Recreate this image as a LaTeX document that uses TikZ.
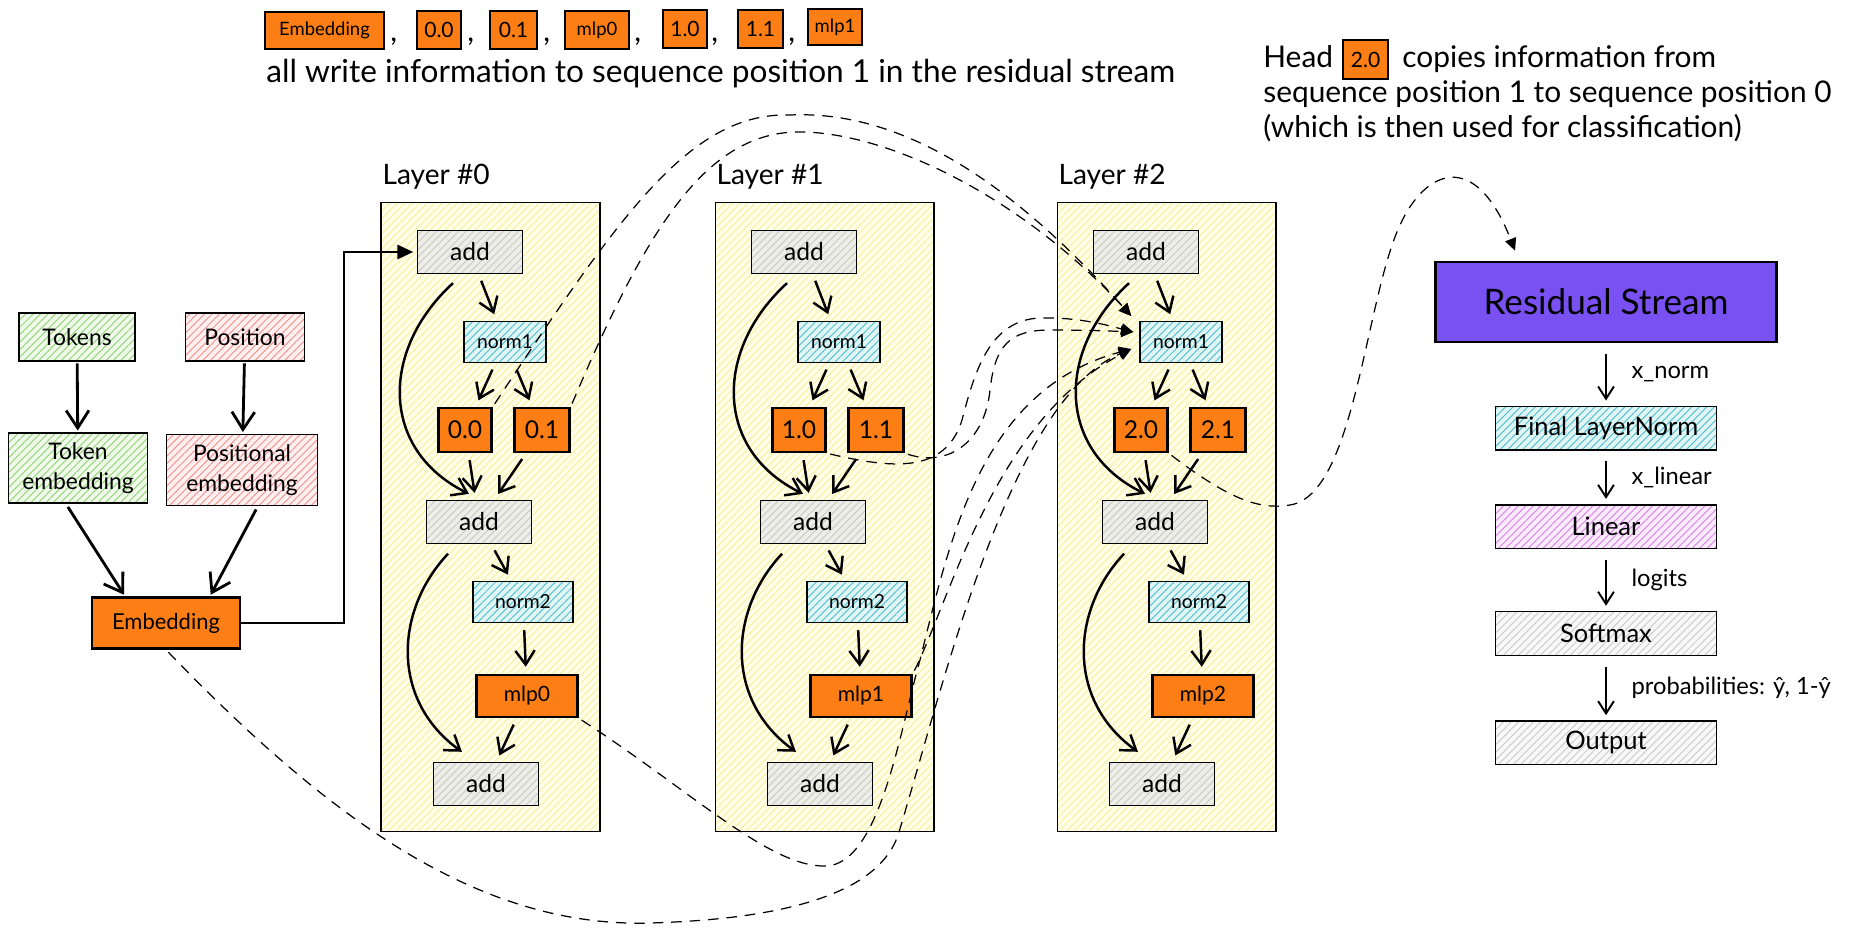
\documentclass[tikz,border=0pt]{standalone}
\usepackage{fontspec}
\setmainfont{Lato}
\usetikzlibrary{arrows.meta,positioning,calc,patterns.meta}

\definecolor{orangebox}{RGB}{253,126,20}
\definecolor{purplebox}{RGB}{121,80,242}
\definecolor{layerbase}{RGB}{255,254,232}
\definecolor{layerline}{RGB}{250,238,150}
\definecolor{addbase}{RGB}{238,238,232}
\definecolor{addline}{RGB}{200,200,195}
\definecolor{normbase}{RGB}{225,245,245}
\definecolor{normline}{RGB}{70,190,205}
\definecolor{greenbase}{RGB}{240,250,235}
\definecolor{greenline}{RGB}{140,210,110}
\definecolor{redbase}{RGB}{255,240,240}
\definecolor{redline}{RGB}{245,140,140}
\definecolor{violetbase}{RGB}{250,235,252}
\definecolor{violetline}{RGB}{215,125,230}
\definecolor{graybase}{RGB}{248,248,248}
\definecolor{grayline}{RGB}{200,200,200}

\begin{document}
\begin{tikzpicture}[x = 0.02cm, y = -0.02cm,
		hatch/.style 2 args = {preaction = {fill = #1}, preaction = {pattern = {Lines[angle = 45, distance = 3pt, line width = 0.5pt]}, pattern color = #2}},
		box_node/.style = {rectangle, draw, line width = 0.8pt, inner sep = 0pt, align = center},
		layer_node/.style = {box_node, hatch = {layerbase}{layerline}, line width = 0.6pt, minimum width = 4.38cm, minimum height = 12.6cm},
		layer_label/.style = {anchor = south west, inner sep = 0pt, xshift = 1pt, yshift = 7pt, font = \fontsize{16}{19}\selectfont},
		add_node/.style = {box_node, hatch = {addbase}{addline}, minimum width = 2.1cm, minimum height = 0.86cm, font = \fontsize{14}{17}\selectfont},
		norm_node/.style = {box_node, hatch = {normbase}{normline}, minimum height = 0.82cm, font = \fontsize{11}{13}\selectfont},
		orange_node/.style = {box_node, fill = orangebox, line width = 1.4pt, minimum height = 0.84cm, font = \fontsize{12}{14}\selectfont},
		head_node/.style = {orange_node, minimum height = 0.88cm, font = \fontsize{14}{17}\selectfont},
		legend_node/.style = {orange_node, line width = 1.1pt, minimum height = 0.75cm, font = \fontsize{10.5}{12}\selectfont},
		green_node/.style = {box_node, hatch = {greenbase}{greenline}, font = \fontsize{13}{17}\selectfont},
		red_node/.style = {box_node, hatch = {redbase}{redline}, font = \fontsize{13}{17}\selectfont},
		chain_node/.style = {box_node, minimum width = 4.42cm, minimum height = 0.87cm, font = \fontsize{14.5}{17}\selectfont},
		text_node/.style = {anchor = base west, inner sep = 0pt, font = \fontsize{17}{20}\selectfont},
		arrow_label/.style = {right = 14pt, inner sep = 0pt, font = \fontsize{13.5}{16}\selectfont},
		inner_arrow/.style = {line width = 1.4pt, -{Straight Barb[length = 8pt, width = 11pt]}, shorten <= 4pt, shorten >= 4pt},
		skip_arrow/.style = {inner_arrow, shorten <= 0pt, shorten >= 0pt},
		input_arrow/.style = {line width = 1.6pt, -{Straight Barb[length = 10pt, width = 13pt]}, shorten <= 1pt, shorten >= 1pt},
		chain_arrow/.style = {line width = 1.1pt, -{Straight Barb[length = 7pt, width = 9pt]}, shorten <= 6pt, shorten >= 3pt},
		dash_arrow/.style = {line width = 0.7pt, dash pattern = on 6pt off 4.5pt, -{Triangle[length = 7pt, width = 6.5pt]}, shorten <= 2pt},
		]
		\useasboundingbox (0,0) rectangle (1859,936);

		%legend
		\node[legend_node, minimum width = 2.38cm] (le_emb) at (324.5,30.5) {Embedding};
		\node[legend_node, minimum width = 0.88cm, font = \fontsize{12}{14}\selectfont] (le00) at (439,30) {0.0};
		\node[legend_node, minimum width = 0.94cm, font = \fontsize{12}{14}\selectfont] (le01) at (513.5,30) {0.1};
		\node[legend_node, minimum width = 1.28cm] (le_m0) at (597,30) {mlp0};
		\node[legend_node, minimum width = 0.88cm, font = \fontsize{12}{14}\selectfont] (le10) at (685,29) {1.0};
		\node[legend_node, minimum width = 0.9cm, font = \fontsize{12}{14}\selectfont] (le11) at (760.5,29) {1.1};
		\node[legend_node, minimum width = 1.08cm, minimum height = 0.72cm] (le_m1) at (835,27) {mlp1};
		\node[text_node] (c1) at (390,42) {,};
		\node[text_node] (c2) at (467,42) {,};
		\node[text_node] (c3) at (543,42) {,};
		\node[text_node] (c4) at (634,42) {,};
		\node[text_node] (c5) at (711,42) {,};
		\node[text_node] (c6) at (788,42) {,};
		\node[text_node, font = \fontsize{18}{21}\selectfont] (writes) at (266,83) {all write information to sequence position 1 in the residual stream};

		%head note
		\node[text_node] (head) at (1263,68) {Head};
		\node[legend_node, minimum width = 0.9cm, minimum height = 0.78cm, font = \fontsize{12}{14}\selectfont] (le20) at (1365.5,59.5) {2.0};
		\node[text_node] (copies) at (1402,68) {copies information from};
		\node[text_node] (seq) at (1263,103) {sequence position 1 to sequence position 0};
		\node[text_node] (which) at (1263,137) {(which is then used for classification)};

		%input
		\node[green_node, minimum width = 2.32cm, minimum height = 0.96cm] (tok) at (77,337) {Tokens};
		\node[red_node, minimum width = 2.38cm, minimum height = 0.96cm] (pos) at (245,337) {Position};
		\node[green_node, minimum width = 2.78cm, minimum height = 1.4cm] (tokemb) at (78,468) {Token\\embedding};
		\node[red_node, minimum width = 3.02cm, minimum height = 1.42cm] (posemb) at (242,470) {Positional\\embedding};
		\node[orange_node, minimum width = 2.96cm, minimum height = 1.02cm, font = \fontsize{12.5}{15}\selectfont] (emb) at (166,623) {Embedding};

		\draw[input_arrow] (tok) -- (tokemb);
		\draw[input_arrow] (pos) -- (posemb);
		\draw[input_arrow] ([xshift = -6.3pt, yshift = -1pt]tokemb.south) -- ([xshift = -23.3pt]emb.north);
		\draw[input_arrow] ([xshift = 8.5pt, yshift = -1pt]posemb.south) -- ([xshift = 25pt]emb.north);

		%layer 0
		\node[layer_node, label = {[layer_label]north west:Layer \#0}] (l0) at (490.5,517) {};
		\node[add_node] (a0top) at (470,252) {add};
		\node[norm_node, minimum width = 1.64cm] (n0a) at (505,342) {norm1};
		\node[head_node, minimum width = 1.06cm] (h00) at (465,430) {0.0};
		\node[head_node, minimum width = 1.1cm] (h01) at (542,430) {0.1};
		\node[add_node] (a0mid) at (479,522) {add};
		\node[norm_node, minimum width = 2cm] (n0b) at (523,602) {norm2};
		\node[orange_node, minimum width = 2.02cm] (m0) at (527,696) {mlp0};
		\node[add_node] (a0bot) at (486,784) {add};

		\draw[inner_arrow] (a0top) -- (n0a);
		\draw[inner_arrow] (n0a) -- (h00);
		\draw[inner_arrow] (n0a) -- (h01);
		\draw[inner_arrow] (h00) -- (a0mid);
		\draw[inner_arrow] (h01) -- (a0mid);
		\draw[inner_arrow] (a0mid) -- (n0b);
		\draw[inner_arrow] (n0b) -- (m0);
		\draw[inner_arrow] (m0) -- (a0bot);
		\draw[skip_arrow] ([xshift = -9.7pt, yshift = -5.1pt]a0top.south) .. controls (380,350) and (380,450) .. ([xshift = -5.7pt, yshift = 3.4pt]a0mid.north);
		\draw[skip_arrow] ([xshift = -17.6pt, yshift = -5.4pt]a0mid.south) .. controls (395,610) and (390,700) .. ([xshift = -13.7pt, yshift = 5.7pt]a0bot.north);

		\draw[line width = 1.4pt, -{Triangle[length = 9pt, width = 8pt]}, shorten >= 2pt] (emb.east) -- ++(103,0) |- (a0top.west);

		%layer 1
		\begin{scope}[shift = {(334,0)}]
		\node[layer_node, label = {[layer_label]north west:Layer \#1}] (l1) at (490.5,517) {};
		\node[add_node] (a1top) at (470,252) {add};
		\node[norm_node, minimum width = 1.64cm] (n1a) at (505,342) {norm1};
		\node[head_node, minimum width = 1.06cm] (h10) at (465,430) {1.0};
		\node[head_node, minimum width = 1.1cm] (h11) at (542,430) {1.1};
		\node[add_node] (a1mid) at (479,522) {add};
		\node[norm_node, minimum width = 2cm] (n1b) at (523,602) {norm2};
		\node[orange_node, minimum width = 2.02cm] (m1) at (527,696) {mlp1};
		\node[add_node] (a1bot) at (486,784) {add};

		\draw[inner_arrow] (a1top) -- (n1a);
		\draw[inner_arrow] (n1a) -- (h10);
		\draw[inner_arrow] (n1a) -- (h11);
		\draw[inner_arrow] (h10) -- (a1mid);
		\draw[inner_arrow] (h11) -- (a1mid);
		\draw[inner_arrow] (a1mid) -- (n1b);
		\draw[inner_arrow] (n1b) -- (m1);
		\draw[inner_arrow] (m1) -- (a1bot);
		\draw[skip_arrow] ([xshift = -9.7pt, yshift = -5.1pt]a1top.south) .. controls (380,350) and (380,450) .. ([xshift = -5.7pt, yshift = 3.4pt]a1mid.north);
		\draw[skip_arrow] ([xshift = -17.6pt, yshift = -5.4pt]a1mid.south) .. controls (395,610) and (390,700) .. ([xshift = -13.7pt, yshift = 5.7pt]a1bot.north);
		\end{scope}

		%layer 2
		\begin{scope}[shift = {(676,0)}]
		\node[layer_node, label = {[layer_label]north west:Layer \#2}] (l2) at (490.5,517) {};
		\node[add_node] (a2top) at (470,252) {add};
		\node[norm_node, minimum width = 1.64cm] (n2a) at (505,342) {norm1};
		\node[head_node, minimum width = 1.06cm] (h20) at (465,430) {2.0};
		\node[head_node, minimum width = 1.1cm] (h21) at (542,430) {2.1};
		\node[add_node] (a2mid) at (479,522) {add};
		\node[norm_node, minimum width = 2cm] (n2b) at (523,602) {norm2};
		\node[orange_node, minimum width = 2.02cm] (m2) at (527,696) {mlp2};
		\node[add_node] (a2bot) at (486,784) {add};

		\draw[inner_arrow] (a2top) -- (n2a);
		\draw[inner_arrow] (n2a) -- (h20);
		\draw[inner_arrow] (n2a) -- (h21);
		\draw[inner_arrow] (h20) -- (a2mid);
		\draw[inner_arrow] (h21) -- (a2mid);
		\draw[inner_arrow] (a2mid) -- (n2b);
		\draw[inner_arrow] (n2b) -- (m2);
		\draw[inner_arrow] (m2) -- (a2bot);
		\draw[skip_arrow] ([xshift = -9.7pt, yshift = -5.1pt]a2top.south) .. controls (380,350) and (380,450) .. ([xshift = -5.7pt, yshift = 3.4pt]a2mid.north);
		\draw[skip_arrow] ([xshift = -17.6pt, yshift = -5.4pt]a2mid.south) .. controls (395,610) and (390,700) .. ([xshift = -13.7pt, yshift = 5.7pt]a2bot.north);
		\end{scope}

		%output
		\node[box_node, fill = purplebox, line width = 1.5pt, minimum width = 6.82cm, minimum height = 1.6cm, font = \fontsize{20}{24}\selectfont] (rs) at (1606,302) {Residual Stream};
		\node[chain_node, hatch = {normbase}{normline}, below = 1.25cm of rs] (fln) {Final LayerNorm};
		\node[chain_node, hatch = {violetbase}{violetline}, below = 1.07cm of fln] (lin) {Linear};
		\node[chain_node, hatch = {graybase}{grayline}, below = 1.24cm of lin] (soft) {Softmax};
		\node[chain_node, hatch = {graybase}{grayline}, below = 1.29cm of soft] (out) {Output};

		\draw[chain_arrow] (rs) -- node[arrow_label] {x\_norm} (fln);
		\draw[chain_arrow] (fln) -- node[arrow_label] {x\_linear} (lin);
		\draw[chain_arrow] (lin) -- node[arrow_label] {logits} (soft);
		\draw[chain_arrow] (soft) -- node[arrow_label] {probabilities: ŷ, 1-ŷ} (out);

		%information flow
		\draw[dash_arrow] (h00.north east) .. controls (620,215) and (690,112) .. (790,115) .. controls (900,110) and (1010,180) .. ([xshift = -4.6pt, yshift = 14.8pt]n2a.west);
		\draw[dash_arrow] (h01.north east) .. controls (650,220) and (710,128) .. (806,132) .. controls (900,136) and (1030,205) .. ([xshift = -4.6pt, yshift = 14.8pt]n2a.west);
		\draw[dash_arrow] (h10.south east) .. controls (890,468) and (945,475) .. (962,420) .. controls (975,370) and (990,320) .. (1040,318) .. controls (1080,317) and (1110,326) .. ([xshift = -3.4pt, yshift = 5.7pt]n2a.west);
		\draw[dash_arrow] (h11.south east) .. controls (950,468) and (985,440) .. (990,390) .. controls (995,345) and (1010,330) .. (1050,330) .. controls (1085,330) and (1110,331) .. ([xshift = -3.4pt, yshift = 5.7pt]n2a.west);
		\draw[dash_arrow] (emb.south) .. controls (330,820) and (480,928) .. (650,923) .. controls (820,918) and (885,880) .. (899,832) .. controls (945,680) and (1010,400) .. ([xshift = -4.6pt, yshift = -4pt]n2a.west);
		\draw[dash_arrow] (m0.south east) .. controls (690,790) and (770,868) .. (826,866) .. controls (880,864) and (900,730) .. (920,660) .. controls (950,540) and (980,390) .. ([xshift = -4.6pt, yshift = -4pt]n2a.west);
		\draw[dash_arrow] (m1.north east) .. controls (950,600) and (995,420) .. ([xshift = -4.6pt, yshift = -4pt]n2a.west);
		\coordinate (rs_in) at ([xshift = 46pt, yshift = 5.7pt]rs.north west);
		\draw[dash_arrow] (h20.south east) .. controls (1230,500) and (1260,510) .. (1290,505) .. controls (1355,495) and (1365,300) .. (1400,225) .. controls (1425,170) and (1475,148) .. (rs_in);

\end{tikzpicture}
\end{document}
